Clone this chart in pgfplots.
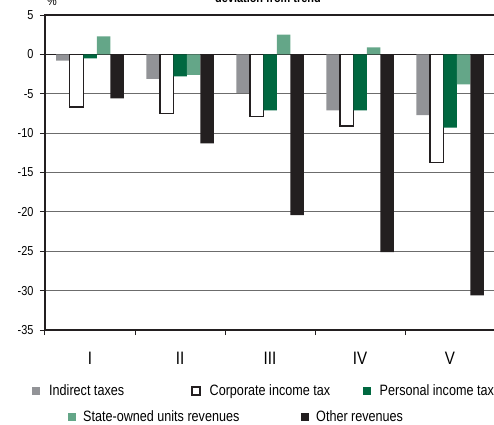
\documentclass[border=0pt]{standalone}
\usepackage{pgfplots}
\pgfplotsset{compat=1.18}
\usepackage{fontspec}
\setmainfont[FakeStretch=0.84]{Liberation Sans}
\definecolor{cgray}{HTML}{929397}
\definecolor{cdgreen}{HTML}{006840}
\definecolor{clgreen}{HTML}{64A688}
\definecolor{cblack}{HTML}{231F20}
\pgfplotsset{sq/.style={legend image code/.code={\path[##1] (0pt,-4pt) rectangle (8pt,4pt);}}}
\pgfplotstableread{
x ind corp pers state other
1 -0.8 -6.7 -0.5 2.3 -5.6
2 -3.1 -7.5 -2.8 -2.6 -11.3
3 -4.9 -7.9 -7.1 2.5 -20.4
4 -7.1 -9.1 -7.1 0.9 -25.1
5 -7.7 -13.7 -9.3 -3.8 -30.6
}\datatable
\begin{document}
\begin{tikzpicture}
\useasboundingbox (-45pt,-94pt) rectangle (449pt,330pt);
\begin{axis}[at={(0pt,0pt)}, anchor=south west, scale only axis,
  width=450pt, height=315pt,
  xmin=0.5, xmax=5.5, ymin=-35, ymax=5,
  ybar=0pt, bar width=13.5pt,
  axis line style={cblack, line width=1.5pt},
  ytick={-35,-30,...,5},
  ymajorgrids, grid style={gray!85!black, line width=0.8pt},
  extra y ticks={0}, extra y tick labels={},
  extra y tick style={grid style={cblack, line width=1.5pt}},
  tick pos=left, tick align=outside, major tick length=5pt,
  tick style={cblack, line width=1pt},
  xtick={0.5,1.5,...,5.5}, x tick label as interval,
  xticklabels={I,II,III,IV,V},
  xticklabel style={font=\fontsize{18}{18}\selectfont, yshift=-14pt},
  yticklabel style={font=\fontsize{13}{13}\selectfont, xshift=-3pt},
  /pgf/number format/assume math mode=true,
  legend style={at={(axis description cs:-0.0289,-0.1937)}, anchor=west,
    draw=none, fill=none, inner sep=0pt,
    font=\fontsize{15}{15}\selectfont,
    nodes={inner sep=0pt},
    /tikz/every odd column/.style={column sep=9pt}},
  legend columns=3,
]
\addplot[sq, fill=cgray, draw=none] table[x=x, y=ind] {\datatable};
\addlegendentry{\makebox[142pt][l]{Indirect taxes}}
\addplot[sq, fill=white, draw=cblack, line width=1.5pt] table[x=x, y=corp] {\datatable};
\addlegendentry{\makebox[153pt][l]{Corporate income tax}}
\addplot[sq, fill=cdgreen, draw=none] table[x=x, y=pers] {\datatable};
\addlegendentry{Personal income tax}
\addplot[fill=clgreen, draw=none] table[x=x, y=state] {\datatable};
\addplot[fill=cblack, draw=none] table[x=x, y=other] {\datatable};
\end{axis}
\begin{axis}[at={(0pt,0pt)}, anchor=south west, scale only axis,
  width=450pt, height=315pt, hide axis,
  xmin=0, xmax=1, ymin=0, ymax=1,
  legend style={at={(axis description cs:0.0511,-0.2762)}, anchor=west,
    draw=none, fill=none, inner sep=0pt,
    font=\fontsize{15}{15}\selectfont,
    nodes={inner sep=0pt},
    /tikz/every odd column/.style={column sep=7pt}},
  legend columns=2,
]
\addlegendimage{sq, fill=clgreen, draw=none}
\addlegendentry{\makebox[218pt][l]{State-owned units revenues}}
\addlegendimage{sq, fill=cblack, draw=none}
\addlegendentry{Other revenues}
\end{axis}
\node[font=\bfseries\fontsize{13}{13}\selectfont, anchor=base] at (223pt,327pt) {deviation from trend};
\node[font=\fontsize{13}{13}\selectfont, anchor=base] at (7pt,324pt) {\%};
\end{tikzpicture}
\end{document}
